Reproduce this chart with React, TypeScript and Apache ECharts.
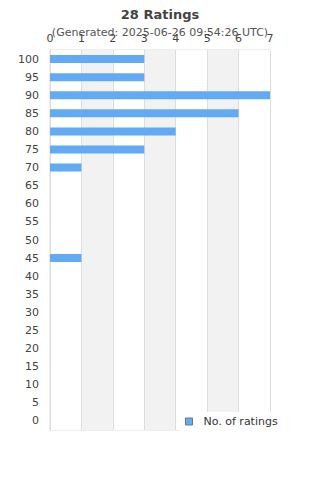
import React, { useEffect, useRef } from "react";
import * as echarts from "echarts";

const categories = ["0","5","10","15","20","25","30","35","40","45","50","55","60","65","70","75","80","85","90","95","100"];
const counts = [0,0,0,0,0,0,0,0,0,1,0,0,0,0,1,3,4,6,7,3,3];
const titleText = "28 Ratings";
const subtitleText = "(Generated: 2025-06-26 09:54:26 UTC)";
const seriesName = "No. of ratings";

export default function App() {
  const ref = useRef<HTMLDivElement>(null);
  useEffect(() => {
    const chart = echarts.init(ref.current!, null, { renderer: "svg" });
    chart.setOption({
      animation: false,
      textStyle: { fontFamily: "DejaVu Sans" },
      title: {
        text: titleText,
        subtext: subtitleText,
        left: "center",
        top: 3,
        itemGap: 6,
        textStyle: { fontSize: 13, fontWeight: "bold", color: "#444", fontFamily: "DejaVu Sans" },
        subtextStyle: { fontSize: 11, color: "#555", fontFamily: "DejaVu Sans" },
      },
      legend: {
        data: [seriesName],
        left: 181,
        top: 412,
        backgroundColor: "#fff",
        padding: [4, 4, 4, 4],
        itemWidth: 7,
        itemHeight: 7,
        itemGap: 8,
        icon: "rect",
        itemStyle: { borderColor: "#777", borderWidth: 1 },
        textStyle: { fontSize: 11, color: "#333", fontFamily: "DejaVu Sans", padding: [0, 0, 0, 6] },
      },
      grid: {
        left: 50, right: 50, top: 50, bottom: 50,
        show: true, borderColor: "#ddd", borderWidth: 1,
      },
      xAxis: {
        type: "value",
        position: "top",
        min: 0, max: 7, interval: 1,
        axisLine: { show: false },
        axisTick: { show: false },
        axisLabel: { fontSize: 11, color: "#444", margin: 6 },
        splitLine: { show: true, lineStyle: { color: "#ddd" } },
        splitArea: { show: true, areaStyle: { color: ["#fff", "#f2f2f2"] } },
      },
      yAxis: {
        type: "category",
        data: categories,
        axisLine: { show: true, lineStyle: { color: "#ddd" } },
        axisTick: { show: false },
        axisLabel: { fontSize: 11, color: "#444", margin: 11 },
        splitLine: { show: false },
      },
      series: [{
        name: seriesName,
        type: "bar",
        data: counts,
        barWidth: 8,
        itemStyle: { color: "#62aaf4" },
      }],
    });
    return () => chart.dispose();
  }, []);
  return <div ref={ref} style={{ width: 320, height: 480, position: "absolute", left: 0, top: 0 }} />;
}
